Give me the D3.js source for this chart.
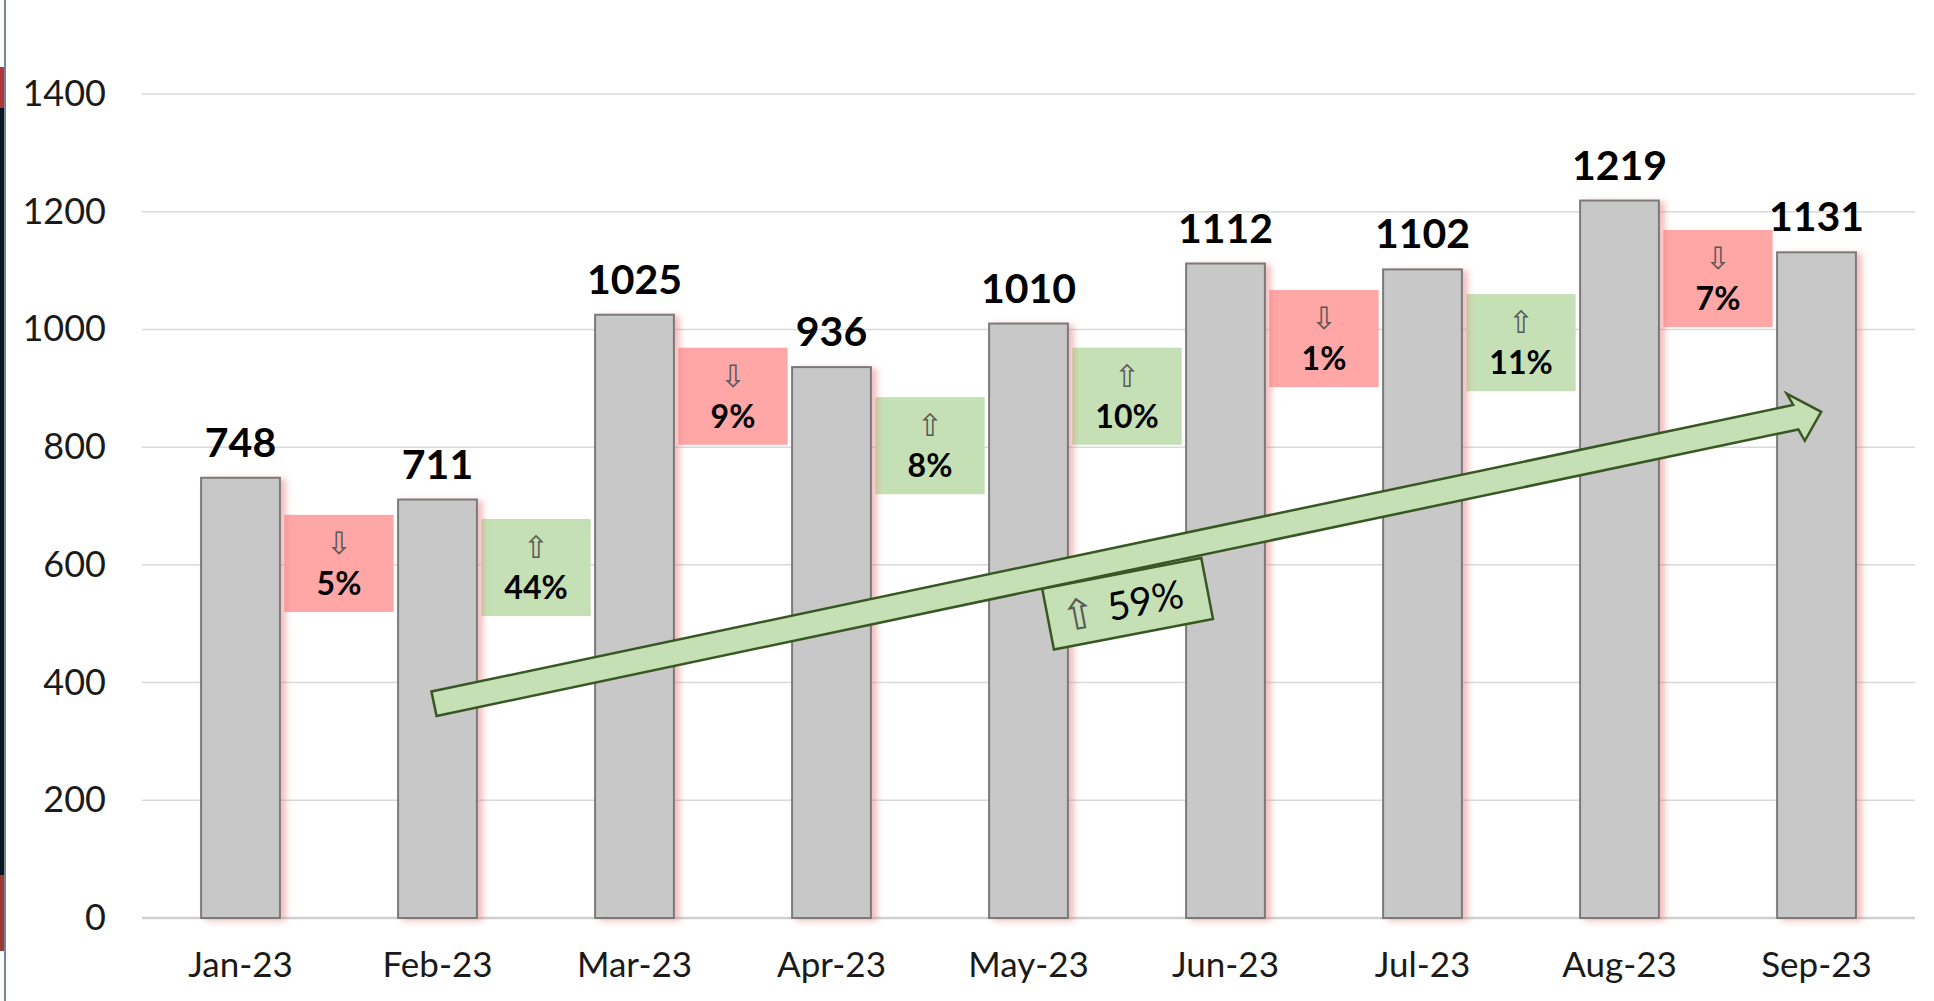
<!DOCTYPE html>
<html>
<head>
<meta charset="utf-8">
<script src="https://cdn.jsdelivr.net/npm/d3@7"></script>
<style>
  html, body { margin: 0; padding: 0; background: #ffffff; }
  svg { display: block; }
</style>
</head>
<body>
<div id="chart-container"></div>
<script>
// monthly totals
const months = ["Jan-23", "Feb-23", "Mar-23", "Apr-23", "May-23", "Jun-23", "Jul-23", "Aug-23", "Sep-23"];
const totals = [748, 711, 1025, 936, 1010, 1112, 1102, 1219, 1131];

// hidden helper series - where the change boxes sit (value units)
const boxTop = [685, 678, 969, 885, 969, 1067, 1060, 1169];
const boxSpan = 165;

// big trend arrow, Feb -> Sep
const trendFrom = { month: "Feb-23", value: 364 };
const trendTo = { month: "Sep-23", value: 860 };

const yTicks = [0, 200, 400, 600, 800, 1000, 1200, 1400];

const width = 1934;
const height = 1001;

const svg = d3.select("#chart-container").append("svg")
  .attr("width", width)
  .attr("height", height);

// drop shadow for the bars (pinkish glow on the right)
const defs = svg.append("defs");
const shadow = defs.append("filter")
  .attr("id", "barShadow")
  .attr("x", "-20%").attr("y", "-10%")
  .attr("width", "150%").attr("height", "130%");
shadow.append("feDropShadow")
  .attr("dx", 5).attr("dy", 2)
  .attr("stdDeviation", 3)
  .attr("flood-color", "#e07070")
  .attr("flood-opacity", 0.45);

// left edge strip (window border in the screenshot)
svg.append("rect").attr("x", 0).attr("y", 67).attr("width", 4).attr("height", 884).attr("fill", "#0c1522");
svg.append("rect").attr("x", 0).attr("y", 67).attr("width", 4).attr("height", 41).attr("fill", "#b2363a");
svg.append("rect").attr("x", 0).attr("y", 875).attr("width", 4).attr("height", 76).attr("fill", "#9a3a30");
svg.append("line")
  .attr("x1", 5).attr("x2", 5).attr("y1", 0).attr("y2", height)
  .attr("stroke", "#4a5d78").attr("stroke-width", 1.5);

// scales
const x = d3.scaleBand()
  .domain(months)
  .range([142, 1915])
  .paddingInner(0.6)
  .paddingOuter(0.3);

const y = d3.scaleLinear()
  .domain([0, 1400])
  .range([918, 94]);

const step = x.step();
const cx = m => x(m) + x.bandwidth() / 2;

// gridlines
svg.append("g")
  .selectAll("line")
  .data(yTicks)
  .enter().append("line")
    .attr("x1", 142)
    .attr("x2", 1915)
    .attr("y1", d => y(d))
    .attr("y2", d => y(d))
    .attr("stroke", d => d === 0 ? "#d0d0d0" : "#d9d9d9")
    .attr("stroke-width", d => d === 0 ? 2.5 : 1.5);

// y axis labels
const yAxis = d3.axisLeft(y).tickValues(yTicks).tickFormat(d3.format("d")).tickSize(0).tickPadding(0);
const yAxisG = svg.append("g")
  .attr("transform", "translate(106,0)")
  .call(yAxis);
yAxisG.select(".domain").remove();
yAxisG.selectAll("text")
  .attr("font-family", "Lato, sans-serif")
  .attr("font-size", 36)
  .attr("fill", "#1a1a1a");

// x axis labels
const xAxis = d3.axisBottom(x).tickSize(0).tickPadding(0);
const xAxisG = svg.append("g")
  .attr("transform", "translate(0,945)")
  .call(xAxis);
xAxisG.select(".domain").remove();
xAxisG.selectAll("text")
  .attr("dy", "0.9em")
  .attr("font-family", "Lato, sans-serif")
  .attr("font-size", 35)
  .attr("fill", "#1a1a1a");

// change boxes between the bars
const changes = boxTop.map((t, i) => {
  const prev = totals[i], next = totals[i + 1];
  return {
    from: months[i],
    to: months[i + 1],
    top: t,
    pct: Math.round(Math.abs(next - prev) / prev * 100),
    up: next >= prev
  };
});
const boxW = step * 0.555;

const boxG = svg.append("g")
  .selectAll(".change-box")
  .data(changes)
  .enter().append("g")
    .attr("class", "change-box")
    .attr("transform", d => `translate(${(cx(d.from) + cx(d.to)) / 2},${y(d.top)})`);

boxG.append("rect")
  .attr("x", -boxW / 2)
  .attr("y", 0)
  .attr("width", boxW)
  .attr("height", d => y(d.top - boxSpan) - y(d.top))
  .attr("fill", d => d.up ? "#c5e0b4" : "#ffa7a7");

boxG.append("text")
  .attr("y", 39)
  .attr("text-anchor", "middle")
  .attr("font-family", "DejaVu Sans, sans-serif")
  .attr("font-size", 31)
  .attr("fill", "#595959")
  .text(d => d.up ? "\u21E7" : "\u21E9");

boxG.append("text")
  .attr("y", 80)
  .attr("text-anchor", "middle")
  .attr("font-family", "Lato, sans-serif")
  .attr("font-weight", "bold")
  .attr("font-size", 32)
  .attr("fill", "#000000")
  .text(d => d.pct + "%");

// bars
svg.append("g")
  .selectAll(".bar")
  .data(months)
  .enter().append("rect")
    .attr("class", "bar")
    .attr("x", d => x(d))
    .attr("y", (d, i) => y(totals[i]))
    .attr("width", x.bandwidth())
    .attr("height", (d, i) => y(0) - y(totals[i]))
    .attr("fill", "#c8c8c8")
    .attr("stroke", "#7a7a7a")
    .attr("stroke-width", 2)
    .attr("filter", "url(#barShadow)");

// trend arrow + its label
const x0 = cx(trendFrom.month) - 3.5, y0 = y(trendFrom.value);
const x1 = cx(trendTo.month) + 4.7, y1 = y(trendTo.value);
const len = Math.hypot(x1 - x0, y1 - y0);
const ang = Math.atan2(y1 - y0, x1 - x0) * 180 / Math.PI;
const shaftW = 25, headL = 26, headW = 50;
const overallPct = Math.round((totals[totals.length - 1] - totals[1]) / totals[1] * 100);

// label box sits just under the middle of the arrow
const labelG = svg.append("g")
  .attr("transform", `translate(${(x0 + x1) / 2},${(y0 + y1) / 2 + 46}) rotate(${ang + 1})`);
labelG.append("rect")
  .attr("x", -81).attr("y", -31)
  .attr("width", 162).attr("height", 62)
  .attr("fill", "#c5e0b4")
  .attr("stroke", "#385723")
  .attr("stroke-width", 2.5);
labelG.append("text")
  .attr("x", -50).attr("y", 16)
  .attr("text-anchor", "middle")
  .attr("font-family", "DejaVu Sans, sans-serif")
  .attr("font-size", 42)
  .attr("fill", "#595959")
  .text("\u21E7");
labelG.append("text")
  .attr("x", 18).attr("y", 14)
  .attr("text-anchor", "middle")
  .attr("font-family", "Lato, sans-serif")
  .attr("font-size", 39)
  .attr("fill", "#000000")
  .text(overallPct + "%");

const arrowPts = [
  [0, -shaftW / 2],
  [len - headL, -shaftW / 2],
  [len - headL - 4, -headW / 2],
  [len, 0],
  [len - headL + 4, headW / 2],
  [len - headL, shaftW / 2],
  [0, shaftW / 2]
];
svg.append("path")
  .attr("transform", `translate(${x0},${y0}) rotate(${ang})`)
  .attr("d", d3.line()(arrowPts) + "Z")
  .attr("fill", "#c5e0b4")
  .attr("stroke", "#385723")
  .attr("stroke-width", 2.5)
  .attr("stroke-linejoin", "miter");

// value labels on top of the bars
svg.append("g")
  .selectAll(".value-label")
  .data(months)
  .enter().append("text")
    .attr("class", "value-label")
    .attr("x", d => cx(d))
    .attr("y", (d, i) => y(totals[i]) - 21)
    .attr("text-anchor", "middle")
    .attr("font-family", "Lato, sans-serif")
    .attr("font-weight", "bold")
    .attr("font-size", 41)
    .attr("fill", "#000000")
    .text((d, i) => totals[i]);
</script>
</body>
</html>
